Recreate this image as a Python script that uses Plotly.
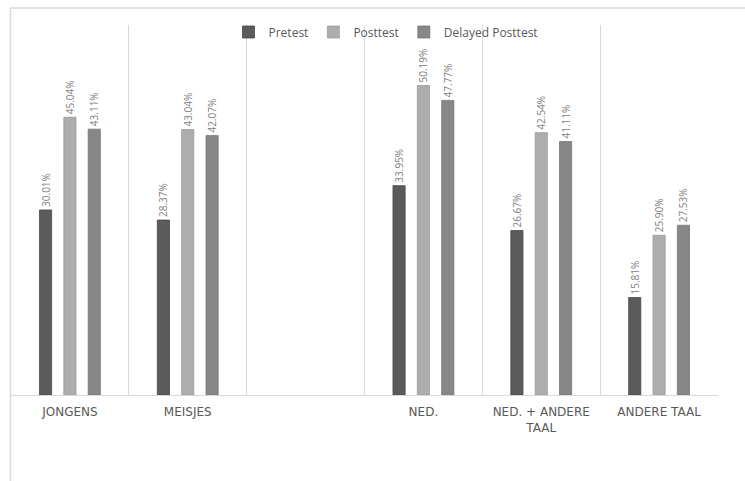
import plotly.graph_objects as go

categories = ["JONGENS", "MEISJES", " ", "NED.", "NED. + ANDERE<br>TAAL", "ANDERE TAAL"]
pretest = [30.01, 28.37, None, 33.95, 26.67, 15.81]
posttest = [45.04, 43.04, None, 50.19, 42.54, 25.90]
delayed = [43.11, 42.07, None, 47.77, 41.11, 27.53]

series = [
    ("Pretest", pretest, "#5b5b5b", "#4a4a4a"),
    ("Posttest", posttest, "#adadad", "#9a9a9a"),
    ("Delayed Posttest", delayed, "#878787", "#777777"),
]

fig = go.Figure()
for name, vals, col, lcol in series:
    fig.add_trace(go.Bar(
        x=categories, y=vals, name=name,
        marker=dict(color=col, line=dict(color=lcol, width=0.8)),
        text=[("%.2f%%" % v) if v is not None else "" for v in vals],
        textposition="outside", textangle=-90, constraintext="none",
        textfont=dict(family="Open Sans", size=10, color="#7f7f7f"),
        cliponaxis=False,
    ))

W, H = 745, 481
L, R, T, B = 11, 27, 25, 86
pw, ph = W - L - R, H - T - B

def px(x):
    return (x - L) / pw

def py(y):
    return (H - B - y) / ph

fig.update_layout(
    width=W, height=H,
    margin=dict(l=L, r=R, t=T, b=B),
    paper_bgcolor="white", plot_bgcolor="white",
    barmode="group", bargap=0.38, bargroupgap=0.5,
    showlegend=True,
    legend=dict(orientation="h", x=px(386), xanchor="center",
                y=py(32), yanchor="middle",
                bgcolor="rgba(0,0,0,0)",
                font=dict(family="Open Sans", size=12, color="#595959"),
                itemwidth=30, tracegroupgap=0),
    xaxis=dict(type="category", tickson="boundaries", showgrid=True,
               gridcolor="#d9d9d9", gridwidth=1,
               showline=True, linecolor="#d9d9d9", linewidth=1,
               ticks="", ticklabelstandoff=6,
               tickfont=dict(family="DejaVu Sans", size=12, color="#595959"),
               fixedrange=True),
    yaxis=dict(range=[0, 60], visible=False, showgrid=False, zeroline=False),
    font=dict(family="Open Sans"),
    shapes=[
        dict(type="line", xref="paper", yref="paper",
             x0=px(10), x1=px(760), y0=py(8), y1=py(8),
             line=dict(color="#d9d9d9", width=1.5)),
        dict(type="line", xref="paper", yref="paper",
             x0=px(10.5), x1=px(10.5), y0=py(8), y1=py(500),
             line=dict(color="#d9d9d9", width=1.5)),
    ],
)

fig.write_html("out.html", config={"displayModeBar": False},
               post_script="document.body.style.margin='0';document.body.style.padding='0';")
